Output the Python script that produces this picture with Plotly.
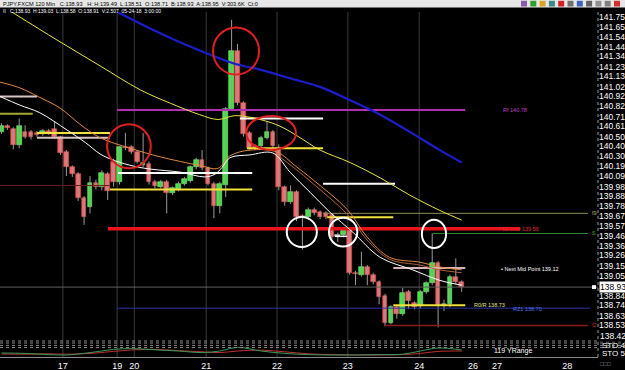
import plotly.graph_objects as go

# ---------------- data ----------------
opens = [140.55, 140.61, 140.58, 140.41, 140.55, 140.55, 140.54, 140.53, 140.56, 140.58,
         140.50, 140.34, 140.18, 140.11, 139.86, 139.77, 140.02, 139.97, 140.11, 140.24,
         140.03, 140.39, 140.39, 140.34, 140.20, 140.21, 140.03, 139.98, 140.03, 139.91,
         139.95, 140.01, 140.04, 140.18, 140.26, 140.17, 140.01, 139.78, 140.00, 140.79,
         141.40, 140.85, 140.54, 140.40, 140.40, 140.49, 140.55, 140.36, 139.97, 139.82,
         139.92, 139.67, 139.66, 139.74, 139.71, 139.70, 139.68, 139.46, 139.47, 139.53,
         139.08, 139.06, 139.14, 139.06, 138.98, 138.84, 138.56, 138.72, 138.65, 138.88,
         138.76, 138.73, 138.88, 138.97, 139.18, 138.74, 138.75, 139.04, 138.98]
highs = [140.64, 140.63, 140.60, 140.69, 140.62, 140.57, 140.56, 140.58, 140.58, 140.66,
         140.51, 140.36, 140.20, 140.13, 139.88, 140.09, 140.05, 140.15, 140.13, 140.27,
         140.40, 140.54, 140.41, 140.36, 140.54, 140.24, 140.05, 140.05, 140.05, 139.98,
         140.03, 140.08, 140.20, 140.28, 140.36, 140.19, 140.03, 140.03, 140.81, 141.72,
         141.47, 140.87, 140.56, 140.42, 140.51, 140.66, 140.57, 140.42, 139.99, 139.99,
         139.94, 139.69, 139.76, 139.76, 139.73, 139.72, 139.70, 139.50, 139.55, 139.55,
         139.10, 139.30, 139.16, 139.08, 139.00, 138.86, 138.74, 138.74, 138.92, 138.90,
         138.78, 138.90, 138.99, 139.49, 139.20, 138.80, 139.06, 139.23, 139.00]
lows = [140.53, 140.57, 140.37, 140.38, 140.48, 140.47, 140.50, 140.51, 140.52, 140.48,
        140.31, 140.09, 140.08, 139.83, 139.58, 139.70, 139.95, 139.94, 139.84, 139.98,
        140.00, 140.36, 140.32, 140.22, 140.18, 140.00, 139.96, 139.96, 139.70, 139.89,
        139.93, 139.99, 140.02, 140.16, 140.15, 139.99, 139.65, 139.70, 139.87, 140.77,
        140.83, 140.50, 140.36, 140.36, 140.38, 140.47, 140.36, 139.94, 139.78, 139.80,
        139.62, 139.32, 139.63, 139.68, 139.64, 139.64, 139.43, 139.40, 139.45, 139.06,
        138.95, 139.04, 138.95, 138.96, 138.75, 138.52, 138.54, 138.60, 138.63, 138.70,
        138.70, 138.71, 138.86, 138.95, 138.51, 138.68, 138.72, 138.96, 138.88]
closes = [140.61, 140.59, 140.41, 140.61, 140.50, 140.50, 140.52, 140.56, 140.54, 140.50,
          140.33, 140.18, 140.11, 139.86, 139.66, 140.02, 139.97, 140.12, 139.93, 140.03,
          140.39, 140.38, 140.34, 140.24, 140.23, 140.03, 139.99, 140.03, 139.91, 139.96,
          140.01, 140.06, 140.18, 140.26, 140.17, 140.01, 139.78, 140.01, 140.79, 141.40,
          140.85, 140.53, 140.38, 140.38, 140.49, 140.55, 140.40, 139.97, 139.82, 139.92,
          139.66, 139.66, 139.74, 139.70, 139.66, 139.66, 139.45, 139.46, 139.53, 139.08,
          139.07, 139.14, 139.06, 138.98, 138.83, 138.56, 138.72, 138.65, 138.87, 138.78,
          138.72, 138.88, 138.97, 139.18, 138.74, 138.75, 139.04, 138.98, 138.93]
bar_idx = list(range(len(opens)))

date_labels = ["17", "19", "20", "21", "22", "23", "24", "26", "27", "28"]
date_pos = [10.4, 19.6, 22.5, 34.7, 46.7, 58.7, 70.8, 79.9, 84.0, 95.9]
grid_pos = [10.4, 19.6, 22.5, 34.7, 46.7, 58.7, 70.8]

price_ticks = [141.75, 141.65, 141.54, 141.44, 141.34, 141.23, 141.13, 141.02, 140.92,
               140.82, 140.71, 140.61, 140.50, 140.40, 140.30, 140.19, 140.09, 139.98,
               139.88, 139.78, 139.67, 139.57, 139.46, 139.36, 139.26, 139.15, 139.05,
               138.84, 138.74, 138.63, 138.53]
bottom_tick = 138.42
last_price = 138.93

ma_blue_x = [19.7, 25.2, 29.4, 33.6, 39.1, 43.8, 48.9, 54.0, 59.1, 64.2, 69.2, 74.3, 78.0]
ma_blue = [141.80, 141.63, 141.51, 141.40, 141.27, 141.20, 141.11, 141.02, 140.88, 140.73,
           140.55, 140.36, 140.23]
ma_yellow_x = [1.8, 9.4, 16.7, 23.5, 28.6, 33.6, 36.7, 39.6, 43.8, 47.2, 50.6, 54.0, 59.1,
               64.2, 69.2, 74.3, 78.0]
ma_yellow = [141.80, 141.51, 141.24, 140.99, 140.85, 140.73, 140.68, 140.72, 140.68, 140.61,
             140.49, 140.36, 140.23, 140.07, 139.89, 139.73, 139.63]
ma_orange_x = [-0.25, 3.1, 6.5, 9.9, 13.3, 16.7, 21.8, 26.9, 33.6, 36.7, 38.7, 42.1, 46.7,
               49.7, 52.8, 58.6, 62.0, 65.8, 70.9, 74.3, 78.0]
ma_orange = [141.07, 141.01, 140.91, 140.80, 140.63, 140.49, 140.38, 140.29, 140.20, 140.17,
             140.30, 140.36, 140.34, 140.20, 140.05, 139.74, 139.45, 139.24, 139.19, 139.14,
             139.11]
ma_brown_x = [46.7, 49.7, 52.8, 58.6, 62.0, 65.8, 70.9, 74.3, 78.0]
ma_brown = [140.31, 140.17, 140.01, 139.69, 139.42, 139.22, 139.16, 139.11, 139.08]
ma_white_x = [-0.25, 3.1, 6.5, 11.1, 14.2, 16.7, 19.2, 22.6, 25.5, 30.3, 34.5, 36.2, 37.4,
              38.7, 42.1, 46.0, 48.9, 52.3, 55.7, 59.6, 64.2, 69.7, 74.3, 78.0]
ma_white = [140.92, 140.83, 140.75, 140.57, 140.44, 140.32, 140.25, 140.19, 140.16, 140.13,
            140.08, 140.11, 140.18, 140.28, 140.31, 140.33, 140.13, 139.92, 139.71, 139.50,
            139.24, 139.11, 139.00, 138.95]

lvl_price = [140.92, 140.74, 140.54, 140.49, 139.99, 140.12, 139.95, 140.69, 140.38, 140.01,
             139.66, 139.46, 139.13, 138.74, 140.78, 139.54, 139.70, 139.49, 138.53, 138.71,
             138.93]
lvl_start = [-0.25, -0.25, 6.0, 6.0, -0.25, 19.75, 18.4, 40.4, 41.6, 54.5,
             55.2, 56.5, 66.4, 66.4, 19.6, 18.05, 54.5, 73.1, 65.0, 19.6,
             -0.25]
lvl_end = [6.0, 5.3, 18.4, 18.4, 18.4, 42.5, 42.5, 54.5, 54.5, 66.7,
           66.4, 58.6, 78.6, 78.6, 78.6, 87.9, 99.4, 99.4, 99.4, 99.75,
           101.1]

lvl_text = ["Rf 140.78", "Lk Low 139.56", "\u2022 Next Mid Point 139.12", "R0/R 138.73",
            "RZ1 138.70", "f9", "S", "f2"]
lvl_text_x = [84.6, 84.6, 84.4, 79.8, 86.4, 99.7, 99.8, 99.7]
lvl_text_y = [140.78, 139.54, 139.12, 138.74, 138.70, 139.70, 139.49, 138.53]

circle_cx = [21.6, 39.75, 45.7, 50.9, 57.9, 73.3]
circle_cy = [140.40, 141.395, 140.54, 139.505, 139.505, 139.485]
circle_rx = [3.7, 3.9, 4.2, 2.55, 2.4, 2.05]
circle_ry = [0.23, 0.245, 0.177, 0.157, 0.15, 0.148]

osc_x = [0, 4, 8, 11, 15, 19, 22, 26, 30, 34, 37, 40, 44, 48, 52, 56, 60, 64, 68, 71, 74, 78]
osc_green = [20, 18, 12, 10, 22, 38, 42, 36, 30, 22, 30, 48, 30, 18, 12, 10, 10, 12, 14, 30, 45, 35]
osc_red = [15, 14, 16, 14, 18, 28, 35, 38, 32, 26, 22, 30, 34, 26, 16, 12, 10, 10, 12, 18, 28, 30]

header1 = "PJPY.FXCM 120 Min   C:138.93   H: H:139.49  L:138.51  O:138.71  B:138.93  A:138.95  V:303.6K  Ct:0"
header2 = "II   C:138.93  H:139.03  L:138.58  O:138.91  V:2.507  05-24-18  3:00:00"

# ---------------- styles ----------------
lvl_color = ["#d9c4c4", "#a6a632", "#f2e23a", "#d9c4c4", "#6e1c1c", "#ffffff", "#f2e23a",
             "#ffffff", "#f2e23a", "#ffffff", "#f2e23a", "#ffffff", "#d8b4b4", "#f2e23a",
             "#b02cb0", "#e8141a", "#8c8c5a", "#2e8b2e", "#8b1a1a", "#2a35a8", "#606060"]
lvl_width = [2, 2, 2, 2, 1, 2, 2, 2, 2, 2, 2, 1.5, 2, 2, 2, 3.5, 1, 1, 1.5, 1, 1]
lvl_text_color = ["#c040c0", "#e03030", "#ffffff", "#e8e080", "#4f6fe8", "#b0b070", "#3cb03c", "#d03030"]
circle_color = ["#e02020", "#e02020", "#e02020", "#ffffff", "#ffffff", "#ffffff"]

W, H = 625, 370
ML, MR, MT, MB = 0, 27, 12, 13
PW, PH = W - ML - MR, H - MT - MB
panel_frac = 20 / PH


def py(ypix):
    return (H - MB - ypix) / PH


def px(xpix):
    return xpix / PW


fig = go.Figure()

# wicks
wx, wy = [], []
for i, (hh, ll) in enumerate(zip(highs, lows)):
    wx += [i, i, None]
    wy += [ll, hh, None]
fig.add_trace(go.Scatter(x=wx, y=wy, mode="lines", line=dict(color="#9a9a9a", width=1),
                         hoverinfo="skip", showlegend=False))

# bodies as bars from open to close
body_lo = [min(o, c) for o, c in zip(opens, closes)]
body_h = [max(abs(c - o), 0.012) for o, c in zip(opens, closes)]
up = [c > o for o, c in zip(opens, closes)]
doji = [abs(c - o) < 0.005 for o, c in zip(opens, closes)]
fill = ["#dddddd" if d else ("#3de83d" if u else "#f26a6a") for u, d in zip(up, doji)]
edge = ["#eeeeee" if d else ("#7cf07c" if u else "#d94848") for u, d in zip(up, doji)]
fig.add_trace(go.Bar(x=bar_idx, y=body_h, base=body_lo, width=0.8,
                     marker=dict(color=fill, line=dict(color=edge, width=0.6)),
                     hoverinfo="skip", showlegend=False))

# level lines
for p, s, e, col, w in zip(lvl_price, lvl_start, lvl_end, lvl_color, lvl_width):
    fig.add_trace(go.Scatter(x=[s, e], y=[p, p], mode="lines", line=dict(color=col, width=w),
                             hoverinfo="skip", showlegend=False))

# moving averages
for xs, ys, col, w in [(ma_blue_x, ma_blue, "#1c1cc8", 2.2),
                       (ma_yellow_x, ma_yellow, "#e6e640", 1),
                       (ma_brown_x, ma_brown, "#b0603a", 1),
                       (ma_orange_x, ma_orange, "#e08a3c", 1),
                       (ma_white_x, ma_white, "#ffffff", 1)]:
    fig.add_trace(go.Scatter(x=xs, y=ys, mode="lines", line=dict(color=col, width=w, shape="spline"),
                             hoverinfo="skip", showlegend=False))

# oscillator panel
fig.add_trace(go.Scatter(x=osc_x, y=osc_red, yaxis="y2", mode="lines",
                         line=dict(color="#c03030", width=1, shape="spline"), showlegend=False))
fig.add_trace(go.Scatter(x=osc_x, y=osc_green, yaxis="y2", mode="lines",
                         line=dict(color="#3a9a5a", width=1, shape="spline"), showlegend=False))

shapes = []
for g in grid_pos:
    shapes.append(dict(type="line", xref="x", yref="paper", x0=g, x1=g, y0=0, y1=1,
                       line=dict(color="#3a3a3a", width=1), layer="below"))
for cx, cy, rx, ry, col in zip(circle_cx, circle_cy, circle_rx, circle_ry, circle_color):
    shapes.append(dict(type="circle", xref="x", yref="y", x0=cx - rx, x1=cx + rx,
                       y0=cy - ry, y1=cy + ry, line=dict(color=col, width=2)))
for v in [80, 70, 58, 47]:
    shapes.append(dict(type="line", xref="paper", yref="y2", x0=0, x1=W / PW, y0=v, y1=v,
                       line=dict(color="#8a8a8a", width=1, dash="dot")))
shapes.append(dict(type="line", xref="paper", yref="paper", x0=1, x1=1, y0=0, y1=1,
                   line=dict(color="#9a9a9a", width=1, dash="dot")))
shapes.append(dict(type="rect", xref="paper", yref="paper", x0=0, x1=W / PW, y0=py(7.5), y1=py(0),
                   fillcolor="#e6e6e6", line=dict(width=0)))
icon_cols = ["#8a5ab0", "#2e9e2e", "#e0a020", "#3a8a8a", "#d02020", "#707070", "#4060c0",
             "#606060", "#909090", "#808080", "#d03030"]
for k, col in enumerate(icon_cols):
    x0 = 521 + k * 9.3
    shapes.append(dict(type="rect", xref="paper", yref="paper", x0=px(x0), x1=px(x0 + 6),
                       y0=py(6.5), y1=py(0.8), fillcolor=col, line=dict(width=0)))
shapes.append(dict(type="rect", xref="paper", yref="y", x0=px(592), x1=px(596),
                   y0=last_price - 0.02, y1=last_price + 0.02, fillcolor="#ffffff", line=dict(width=0)))

annotations = []
for t, x, y, col in zip(lvl_text, lvl_text_x, lvl_text_y, lvl_text_color):
    annotations.append(dict(x=x, y=y, xref="x", yref="y", text=t, showarrow=False,
                            xanchor="left", yanchor="middle", font=dict(size=5.5, color=col)))
annotations += [
    dict(x=px(1), y=py(3.8), xref="paper", yref="paper", text=header1, showarrow=False,
         xanchor="left", yanchor="middle", font=dict(size=5.6, color="#000000")),
    dict(x=px(1), y=py(10.5), xref="paper", yref="paper", text=header2, showarrow=False,
         xanchor="left", yanchor="middle", font=dict(size=5, color="#ffffff")),
    dict(x=px(599), y=last_price, xref="paper", yref="y", text="%.2f" % last_price, showarrow=False,
         xanchor="left", yanchor="middle", bgcolor="#ffffff", borderpad=0,
         font=dict(size=8.5, color="#000000")),
    dict(x=px(599), y=py(335.5), xref="paper", yref="paper", text="%.2f" % bottom_tick, showarrow=False,
         xanchor="left", yanchor="middle", bgcolor="#000000", borderpad=0,
         font=dict(size=8.5, color="#ffffff")),
    dict(x=px(600), y=py(345), xref="paper", yref="paper", text="STO 4", showarrow=False,
         xanchor="left", yanchor="middle", font=dict(size=8, color="#ffffff")),
    dict(x=px(600), y=py(353.5), xref="paper", yref="paper", text="STO 5", showarrow=False,
         xanchor="left", yanchor="middle", font=dict(size=8, color="#ffffff")),
    dict(x=px(492), y=py(351), xref="paper", yref="paper", text="119 YRange", showarrow=False,
         xanchor="left", yanchor="middle", font=dict(size=7, color="#ffffff")),
    dict(x=px(598), y=py(364), xref="paper", yref="paper", text="\u25a1\u25a1\u25a1", showarrow=False,
         xanchor="left", yanchor="middle", font=dict(size=6, color="#9a9a9a")),
]

fig.update_layout(
    width=W, height=H, margin=dict(l=ML, r=MR, t=MT, b=MB, pad=0),
    paper_bgcolor="#000000", plot_bgcolor="#000000",
    font=dict(family="Liberation Sans, Arial, sans-serif", color="#ffffff"),
    showlegend=False, shapes=shapes, annotations=annotations, bargap=0,
    xaxis=dict(range=[-0.254, 101.1], anchor="y2", showgrid=False, zeroline=False,
               tickvals=date_pos, ticktext=date_labels, tickfont=dict(size=9, color="#ffffff"),
               showline=True, linecolor="#8a8a8a", linewidth=1, ticks=""),
    yaxis=dict(domain=[panel_frac, 1], range=[138.409, 141.802], side="right", anchor="x",
               showgrid=False, zeroline=False, tickvals=price_ticks,
               ticktext=["%.2f" % v for v in price_ticks], tickfont=dict(size=8.5, color="#ffffff"),
               ticks=""),
    yaxis2=dict(domain=[0, panel_frac], range=[0, 100], anchor="x", showgrid=False,
                zeroline=False, showticklabels=False),
)

fig.write_html("out.html")
